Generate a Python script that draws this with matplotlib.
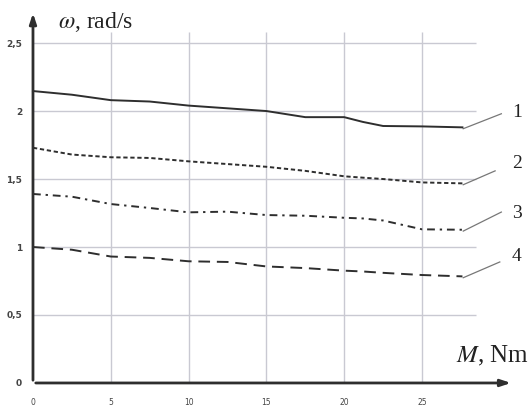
import matplotlib
matplotlib.use("Agg")
import matplotlib.pyplot as plt

plt.rcParams["mathtext.fontset"] = "stix"

# torque M, Nm
M = [0, 2.5, 5, 7.5, 10, 12.5, 15, 17.5, 20, 21.2, 22.5, 25, 27.6]

# angular speed omega, rad/s for curves 1..4
w1 = [2.147, 2.12, 2.08, 2.07, 2.04, 2.02, 2.0, 1.955, 1.955, 1.92, 1.89, 1.887, 1.88]
w2 = [1.73, 1.68, 1.66, 1.655, 1.63, 1.61, 1.59, 1.56, 1.52, 1.51, 1.50, 1.475, 1.468]
w3 = [1.39, 1.37, 1.316, 1.287, 1.255, 1.26, 1.235, 1.23, 1.215, 1.21, 1.195, 1.13, 1.127]
w4 = [1.0, 0.98, 0.93, 0.92, 0.895, 0.89, 0.857, 0.845, 0.826, 0.82, 0.81, 0.794, 0.784]

curve_names = ["1", "2", "3", "4"]
xticks = [0, 5, 10, 15, 20, 25]
xtick_labels = ["0", "5", "10", "15", "20", "25"]
yticks = [0, 0.5, 1, 1.5, 2, 2.5]
ytick_labels = ["0", "0,5", "1", "1,5", "2", "2,5"]

ink = "#2e2e2e"
grid_c = "#c9c9d2"

fig = plt.figure(figsize=(5.32, 4.06), dpi=100)
ax = fig.add_axes([0, 0, 1, 1])
ax.set_xlim(-2.12, 32.07)
ax.set_ylim(-0.162, 2.824)
ax.axis("off")

# grid
ax.hlines(yticks[1:], 0, 28.5, color=grid_c, lw=1.0, zorder=1)
ax.vlines(xticks[1:], 0, 2.58, color=grid_c, lw=1.0, zorder=1)

# axes with arrows
ax.annotate("", xy=(30.9, 0), xytext=(0, 0),
            arrowprops=dict(arrowstyle="-|>,head_length=0.6,head_width=0.2", color=ink, lw=2))
ax.annotate("", xy=(0, 2.74), xytext=(0, 0),
            arrowprops=dict(arrowstyle="-|>,head_length=0.6,head_width=0.2", color=ink, lw=2))

for t, lab in zip(xticks, xtick_labels):
    ax.text(t, -0.1, lab, ha="center", va="top", fontsize=5.5, color="#444444")
for t, lab in zip(yticks, ytick_labels):
    ax.text(-0.7, t, lab, ha="right", va="center", fontsize=6.5, color="#444444",
            fontweight="bold")

series = [w1, w2, w3, w4]
styles = [dict(ls="-"),
          dict(ls=(0, (2.2, 1.4))),
          dict(ls=(0, (4, 2.5, 1.2, 2.5))),
          dict(ls=(0, (6, 3.5)))]
for w, st in zip(series, styles):
    ax.plot(M, w, color=ink, lw=1.4, zorder=3, **st)

# leader lines and curve numbers
lead_end = [(30.1, 1.98), (29.7, 1.56), (30.1, 1.257), (30.0, 0.89)]
lab_pos = [(31.1, 2.0), (31.1, 1.618), (31.1, 1.257), (31.1, 0.934)]
for w, le, lp, name in zip(series, lead_end, lab_pos, curve_names):
    ax.plot([M[-1] + 0.05, le[0]], [w[-1] - 0.01, le[1]], color="#777777", lw=0.9)
    ax.text(lp[0], lp[1], name, ha="center", va="center", fontsize=14,
            family="Liberation Serif", color="#222222")

ax.text(1.6, 2.62, r"$\omega$, rad/s", fontsize=17, family="Liberation Serif",
        color="#222222", ha="left", va="baseline")
ax.text(27.2, 0.155, r"$M$, Nm", fontsize=18, family="Liberation Serif",
        color="#222222", ha="left", va="baseline")

fig.savefig("out.png", dpi=100)
